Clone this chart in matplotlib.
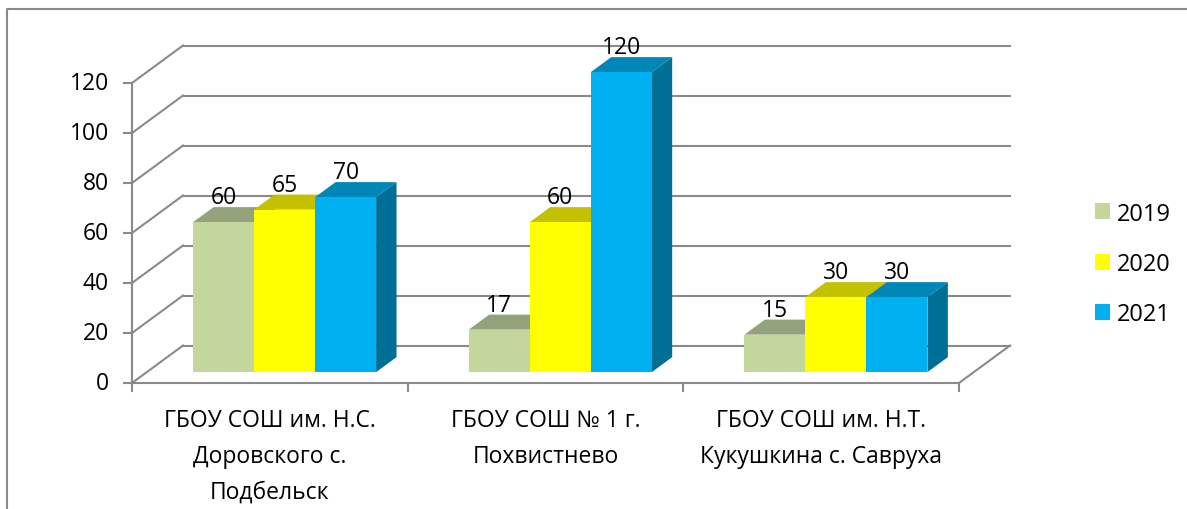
import matplotlib
matplotlib.use('Agg')
import matplotlib.pyplot as plt
from matplotlib.patches import Polygon, Patch
from matplotlib.lines import Line2D

plt.rcParams['font.family'] = ['Open Sans', 'DejaVu Sans']

# Data
categories = ['ГБОУ СОШ им. Н.С.\nДоровского с.\nПодбельск',
              'ГБОУ СОШ № 1 г.\nПохвистнево',
              'ГБОУ СОШ им. Н.Т.\nКукушкина с. Савруха']
years = ['2019', '2020', '2021']
v2019 = [60, 17, 15]
v2020 = [65, 60, 30]
v2021 = [70, 120, 30]
yticks = [0, 20, 40, 60, 80, 100, 120]

series = [v2019, v2020, v2021]
front_colors = ['#c3d69b', '#ffff00', '#00b0f0']
top_colors = ['#93a27a', '#c4c200', '#0087b8']
side_colors = ['#7d8c63', '#a6a400', '#006f96']
grid_color = '#8a8a8a'

# pixel -> data scale (front plane: 275.67 px per category, 2.5 px per unit)
PX = 3 / 827
PY = 1 / 2.5
DX, DY = 51 * PX, 37.5 * PY      # depth of the floor
FRONT = 0.29                     # where bar fronts sit in the depth
DEPTH = 0.4                      # bar depth as part of the floor depth
W = 61 * PX                      # bar width

fig = plt.figure(figsize=(11.87, 5.10), dpi=100)
ax = fig.add_axes([0, 0, 1, 1])
ax.set_xlim(-132 * PX, (1187 - 132) * PX)
ax.set_ylim(-(510 - 384) * PY, 384 * PY)
ax.axis('off')

ymax = yticks[-1]
ncat = len(categories)

# back wall gridlines and left wall lines
for v in yticks:
    ax.plot([DX, ncat + DX], [v + DY, v + DY], color=grid_color, lw=1.5, zorder=1)
    ax.plot([0, DX], [v, v + DY], color=grid_color, lw=1.5, zorder=1)
    ax.plot([-8 * PX, 0], [v, v], color=grid_color, lw=1.5, zorder=1)
    ax.text(-23 * PX, v, str(v), ha='right', va='center', fontsize=16.5)

# front axis, floor edges, category ticks
ax.plot([0, 0], [0, ymax], color=grid_color, lw=1.5, zorder=1)
ax.plot([0, ncat], [0, 0], color=grid_color, lw=1.5, zorder=1)
ax.plot([ncat, ncat + DX], [0, DY], color=grid_color, lw=1.5, zorder=1)
for i in range(ncat + 1):
    ax.plot([i, i], [0, -8 * PY], color=grid_color, lw=1.5, zorder=1)

for i, label in enumerate(categories):
    ax.text(i + 0.5, -(409 - 384) * PY, label, ha='center', va='top',
            fontsize=16.5, linespacing=1.65)

# bars with 3D top and side faces
bottom = FRONT * DY
ddx, ddy = DEPTH * DX, DEPTH * DY
for j, vals in enumerate(series):
    x0s = [i + 0.5 - 1.5 * W + j * W + FRONT * DX for i in range(ncat)]
    ax.bar(x0s, vals, width=W, bottom=bottom, align='edge',
           color=front_colors[j], zorder=3 + j)
    for x0, v in zip(x0s, vals):
        top = bottom + v
        ax.add_patch(Polygon([(x0, top), (x0 + W, top), (x0 + W + ddx, top + ddy),
                              (x0 + ddx, top + ddy)], closed=True,
                             facecolor=top_colors[j], edgecolor='none', zorder=2.5 + j))
        ax.add_patch(Polygon([(x0 + W, bottom), (x0 + W + ddx, bottom + ddy),
                              (x0 + W + ddx, top + ddy), (x0 + W, top)], closed=True,
                             facecolor=side_colors[j], edgecolor='none', zorder=2.5 + j))
        ax.text(x0 + W / 2, top + ddy + 4 * PY, str(v), ha='center', va='baseline',
                fontsize=16.5, zorder=10)

handles = [Patch(facecolor=c, edgecolor='none') for c in front_colors]
fig.legend(handles, years, loc='center left', bbox_to_anchor=(1095 / 1187, 1 - 265 / 510),
           frameon=False, fontsize=17, handlelength=0.64, handleheight=0.64,
           handletextpad=0.3, labelspacing=1.12, borderpad=0, borderaxespad=0)

# outer frame of the chart area
fig.add_artist(Line2D([7 / 1187, 7 / 1187, 1], [0, 1 - 10 / 510, 1 - 10 / 510],
                      transform=fig.transFigure, color=grid_color, lw=1.5))

fig.savefig('out.png', dpi=100)
